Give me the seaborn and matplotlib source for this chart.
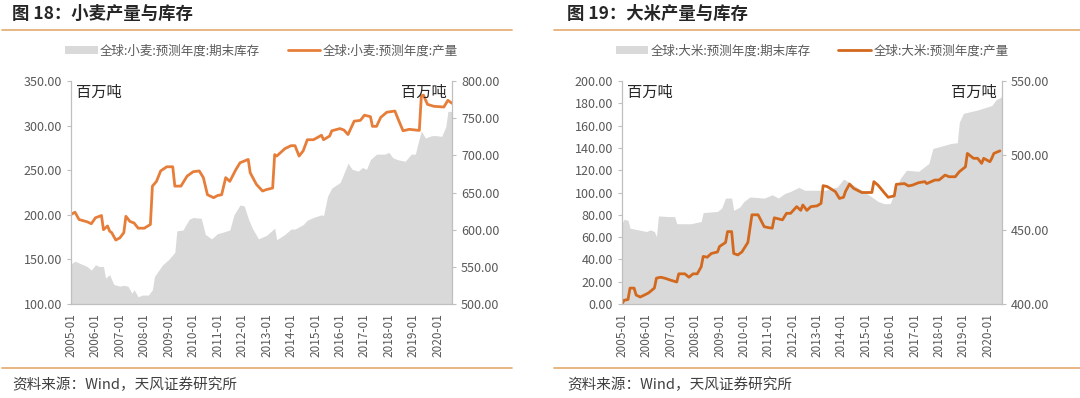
import pandas as pd
import matplotlib
matplotlib.use('Agg')
import matplotlib.pyplot as plt
import matplotlib.dates as mdates
from matplotlib.patches import Patch
from matplotlib.lines import Line2D
import seaborn as sns

sns.set_style('white')
plt.rcParams['font.family'] = ['Noto Sans CJK SC', 'DejaVu Sans']

# ---- data ----
wheat_stock_dates = ['2005-01', '2005-03', '2005-09', '2005-11', '2006-01', '2006-03', '2006-05',
                     '2006-06', '2006-08', '2006-10', '2007-01', '2007-03', '2007-05', '2007-07',
                     '2007-08', '2007-10', '2007-12', '2008-03', '2008-05', '2008-06', '2008-10',
                     '2009-01', '2009-04', '2009-05', '2009-08', '2009-11', '2010-01', '2010-05',
                     '2010-07', '2010-10', '2011-01', '2011-03', '2011-07', '2011-09', '2011-12',
                     '2012-02', '2012-04', '2012-06', '2012-09', '2013-01', '2013-05', '2013-06',
                     '2013-10', '2014-01', '2014-03', '2014-07', '2014-09', '2014-12', '2015-04',
                     '2015-05', '2015-07', '2015-09', '2016-01', '2016-02', '2016-05', '2016-07',
                     '2016-10', '2016-12', '2017-02', '2017-04', '2017-07', '2017-11', '2018-01',
                     '2018-03', '2018-05', '2018-09', '2018-12', '2019-02', '2019-03', '2019-05',
                     '2019-07', '2019-09', '2019-11', '2020-03', '2020-05', '2020-06', '2020-08']
wheat_stock = [145, 148, 142, 138, 144, 142, 142,
               129, 133, 122, 120, 121, 120, 112,
               116, 108, 110, 110, 116, 131, 144,
               150, 158, 182, 183, 195, 197, 196,
               178, 173, 179, 180, 183, 200, 211,
               210, 196, 185, 173, 177, 185, 172,
               178, 184, 184, 189, 194, 197, 200,
               199, 221, 230, 236, 241, 258, 251,
               249, 253, 251, 262, 268, 268, 270,
               264, 262, 260, 268, 268, 277, 294,
               286, 288, 289, 288, 299, 316, 316]

wheat_prod_dates = ['2005-01', '2005-03', '2005-05', '2005-09', '2005-11', '2006-01', '2006-04',
                    '2006-05', '2006-07', '2006-08', '2006-09', '2006-11', '2007-01', '2007-03',
                    '2007-04', '2007-06', '2007-08', '2007-10', '2008-01', '2008-04', '2008-05',
                    '2008-07', '2008-09', '2008-12', '2009-03', '2009-04', '2009-07', '2009-10',
                    '2010-01', '2010-04', '2010-06', '2010-08', '2010-11', '2011-01', '2011-03',
                    '2011-05', '2011-07', '2011-10', '2011-12', '2012-04', '2012-05', '2012-08',
                    '2012-11', '2013-01', '2013-04', '2013-05', '2013-06', '2013-10', '2014-01',
                    '2014-03', '2014-05', '2014-07', '2014-09', '2014-12', '2015-04', '2015-05',
                    '2015-08', '2015-09', '2016-01', '2016-03', '2016-05', '2016-08', '2016-11',
                    '2017-01', '2017-04', '2017-05', '2017-07', '2017-09', '2017-12', '2018-04',
                    '2018-06', '2018-08', '2018-11', '2019-04', '2019-05', '2019-06', '2019-08',
                    '2019-11', '2020-04', '2020-06', '2020-08']
wheat_prod = [620.4, 623.5, 613.7, 610.5, 608, 616, 619,
              600, 605, 598, 596, 586, 589, 596,
              618, 611, 609, 602, 602, 607, 658.6,
              665, 679, 684.6, 684.6, 658.6, 658.6, 672,
              678, 679, 670, 647, 643, 646, 647,
              670, 665, 681, 690, 694.5, 676.5, 661,
              652, 654, 656, 701, 699, 709, 713,
              713, 699, 706, 721, 721, 727, 721,
              726, 733, 736, 734, 728, 746, 747,
              754, 752, 739, 739, 751, 758, 759.6,
              746, 733, 735, 733.5, 780, 781, 768.6,
              766, 765, 774, 770]

rice_stock_dates = ['2005-01', '2005-02', '2005-04', '2005-05', '2005-09', '2006-01', '2006-03',
                    '2006-05', '2006-06', '2006-07', '2006-12', '2007-03', '2007-04', '2007-11',
                    '2008-04', '2008-05', '2008-12', '2009-02', '2009-04', '2009-07', '2009-08',
                    '2009-11', '2010-01', '2010-04', '2010-11', '2011-03', '2011-06', '2011-09',
                    '2011-12', '2012-04', '2012-07', '2013-05', '2013-11', '2014-02', '2014-04',
                    '2014-11', '2015-04', '2015-07', '2015-10', '2016-01', '2016-04', '2016-06',
                    '2016-09', '2017-03', '2017-08', '2017-10', '2018-07', '2018-10', '2018-11',
                    '2019-01', '2019-08', '2020-03', '2020-05', '2020-08']
rice_stock = [72.4, 76, 75, 68, 66.5, 65, 66.5,
              65, 60.5, 79, 78.4, 78.4, 72, 72,
              74, 82, 83, 86, 95, 95, 84,
              87, 92, 96, 95, 98, 95, 99,
              101, 104.6, 102, 102, 105, 112, 110,
              102, 96, 92, 90, 90, 104, 112.7,
              120, 119, 126, 139.5, 144, 144.6, 163,
              171, 174, 178, 183, 186]

rice_prod_dates = ['2005-01', '2005-02', '2005-04', '2005-05', '2005-07', '2005-08', '2005-10',
                   '2005-12', '2006-02', '2006-04', '2006-05', '2006-06', '2006-08', '2006-10',
                   '2007-01', '2007-04', '2007-05', '2007-08', '2007-10', '2007-12', '2008-02',
                   '2008-04', '2008-05', '2008-07', '2008-09', '2008-12', '2009-01', '2009-04',
                   '2009-05', '2009-07', '2009-08', '2009-10', '2009-12', '2010-03', '2010-05',
                   '2010-08', '2010-11', '2011-01', '2011-03', '2011-04', '2011-08', '2011-10',
                   '2011-12', '2012-03', '2012-05', '2012-06', '2012-08', '2012-10', '2013-01',
                   '2013-03', '2013-04', '2013-06', '2013-10', '2013-12', '2014-02', '2014-03',
                   '2014-05', '2014-07', '2014-11', '2015-01', '2015-04', '2015-05', '2015-07',
                   '2015-10', '2015-12', '2016-03', '2016-04', '2016-08', '2016-10', '2016-12',
                   '2017-03', '2017-06', '2017-07', '2017-11', '2018-01', '2018-04', '2018-06',
                   '2018-09', '2018-11', '2019-02', '2019-03', '2019-06', '2019-08', '2019-10',
                   '2019-11', '2020-02', '2020-03', '2020-04', '2020-07']
rice_prod = [400, 402.5, 403, 410.7, 410.7, 406, 404.7,
             406, 407.4, 409.6, 410.7, 417.4, 418, 417.4,
             416, 414.8, 420.3, 420.3, 418, 420.3, 420.3,
             425, 432, 431.5, 434, 435, 438.7, 441.4,
             448.7, 448.7, 434, 433, 435, 441.4, 460,
             460, 452, 451.4, 451, 458, 456.6, 461,
             461, 465.5, 463, 466.6, 463, 465.5, 466,
             467.7, 479.6, 479, 475.6, 471, 471.8, 475.6,
             480.7, 477.8, 475, 475, 475, 482.3, 480,
             475, 471.8, 472.7, 480.5, 481, 479.4, 480,
             481.6, 482.3, 481, 483.4, 483.4, 486.7, 485.6,
             485.6, 489, 492.3, 501.3, 498, 498, 494.6,
             498, 495.7, 498, 501.3, 503]

year_ticks = [str(y) + '-01' for y in range(2005, 2021)]

# ---- figure ----
fig = plt.figure(figsize=(10.8, 3.98), dpi=100)

GRAY_TXT = '#595959'
AREA = '#D9D9D9'
RULE = '#E6B07A'

panels = [
    dict(title='图 18：小麦产量与库存', name='小麦',
         sd=wheat_stock_dates, sv=wheat_stock, pd_=wheat_prod_dates, pv=wheat_prod,
         ylim=(100, 350), ystep=50, y2lim=(500, 800), y2step=50,
         color='#E67E3A', rect=[71/1080, 1-304/398, 381/1080, 223/398], x0=0.002, x1=0.474),
    dict(title='图 19：大米产量与库存', name='大米',
         sd=rice_stock_dates, sv=rice_stock, pd_=rice_prod_dates, pv=rice_prod,
         ylim=(0, 200), ystep=20, y2lim=(400, 550), y2step=50,
         color='#D2691E', rect=[622/1080, 1-304/398, 380/1080, 223/398], x0=0.513, x1=1.0),
]

for p in panels:
    ax = fig.add_axes(p['rect'])
    ax2 = ax.twinx()

    sdates = pd.to_datetime(p['sd'])
    ax.fill_between(sdates, p['ylim'][0], p['sv'], color=AREA, linewidth=0)

    df_prod = pd.DataFrame({'date': pd.to_datetime(p['pd_']), 'val': p['pv']})
    sns.lineplot(data=df_prod, x='date', y='val', ax=ax2, color=p['color'], linewidth=2)

    ax.set_xlim(pd.Timestamp('2005-01-01'), pd.Timestamp('2020-08-01'))
    ax.set_ylim(*p['ylim'])
    ax2.set_ylim(*p['y2lim'])
    ax.set_yticks(range(p['ylim'][0], p['ylim'][1] + 1, p['ystep']))
    ax2.set_yticks(range(p['y2lim'][0], p['y2lim'][1] + 1, p['y2step']))
    ax.yaxis.set_major_formatter(matplotlib.ticker.FormatStrFormatter('%.2f'))
    ax2.yaxis.set_major_formatter(matplotlib.ticker.FormatStrFormatter('%.2f'))

    ax.set_xticks(pd.to_datetime(year_ticks))
    ax.xaxis.set_major_formatter(mdates.DateFormatter('%Y-%m'))
    ax.tick_params(axis='x', rotation=90, labelsize=8.5, colors=GRAY_TXT, length=3, color='#BFBFBF')
    ax.tick_params(axis='y', labelsize=9, colors=GRAY_TXT, length=3, color='#BFBFBF')
    ax2.tick_params(axis='y', labelsize=9, colors=GRAY_TXT, length=3, color='#BFBFBF')
    ax.set_xlabel('')
    ax.set_ylabel('')
    ax2.set_xlabel('')
    ax2.set_ylabel('')

    for a in (ax, ax2):
        a.spines['top'].set_visible(False)
        for s in ('left', 'right', 'bottom'):
            a.spines[s].set_color('#BFBFBF')
            a.spines[s].set_linewidth(0.8)

    ax.text(0.012, 0.985, '百万吨', transform=ax.transAxes, fontsize=11, va='top', ha='left', color='#262626')
    ax2.text(0.985, 0.985, '百万吨', transform=ax2.transAxes, fontsize=11, va='top', ha='right', color='#262626')

    # legend above the plot
    handles = [Patch(facecolor=AREA, edgecolor='none'),
               Line2D([0], [0], color=p['color'], linewidth=2)]
    labels = ['全球:%s:预测年度:期末库存' % p['name'], '全球:%s:预测年度:产量' % p['name']]
    ax.legend(handles, labels, loc='center', bbox_to_anchor=(0.5, 1.135), ncol=2, frameon=False,
              fontsize=9, labelcolor=GRAY_TXT, handlelength=2.6, handleheight=0.5,
              columnspacing=2.2, handletextpad=0.2)

    # header, rules, source
    tx = p['x0'] + 0.009 if p['x0'] < 0.1 else 567/1080
    fig.text(tx, 1 - 14/398, p['title'], fontsize=12.5, fontweight='bold', va='center', ha='left',
             color='#262626')
    fig.add_artist(Line2D([p['x0'], p['x1']], [1 - 30/398, 1 - 30/398], color=RULE, linewidth=1.3))
    fig.add_artist(Line2D([p['x0'], p['x1']], [1 - 368/398, 1 - 368/398], color=RULE, linewidth=1.3))
    fig.text(tx, 1 - 385/398, '资料来源：Wind，天风证券研究所', fontsize=10.5, va='center', ha='left',
             color='#404040')

fig.savefig('out.png', dpi=100)
